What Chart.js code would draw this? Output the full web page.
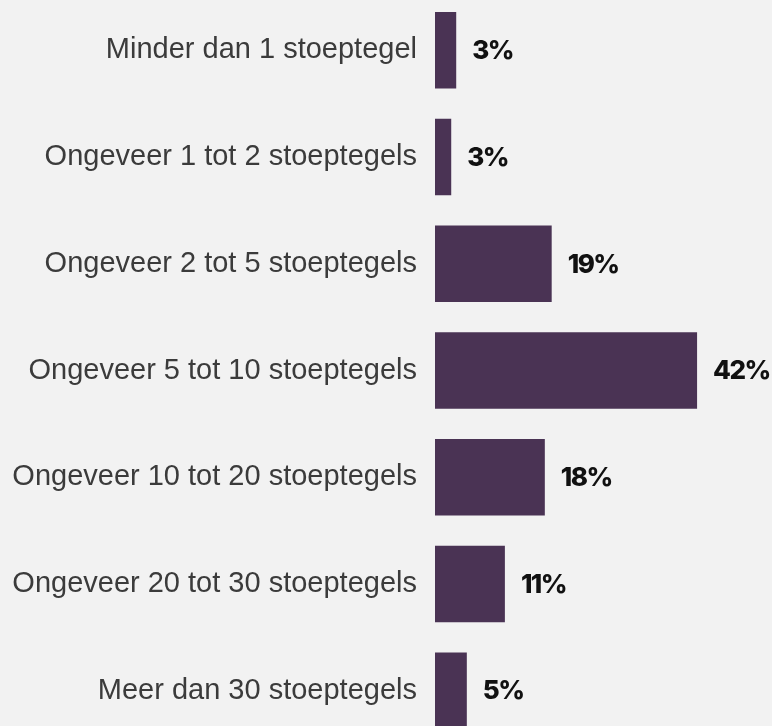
<!DOCTYPE html>
<html>
<head>
<meta charset="utf-8">
<script src="https://cdn.jsdelivr.net/npm/chart.js@4"></script>
<style>
  html, body { margin: 0; padding: 0; background: #f2f2f2; overflow: hidden; }
  body { width: 772px; height: 726px; position: relative; }
  #wrap { position: absolute; left: 0; top: -3px; width: 772px; height: 747px; }
</style>
</head>
<body>
<div id="wrap"><canvas id="tegelChart"></canvas></div>
<script>
// categorieën en percentages
const categorieen = [
  'Minder dan 1 stoeptegel',
  'Ongeveer 1 tot 2 stoeptegels',
  'Ongeveer 2 tot 5 stoeptegels',
  'Ongeveer 5 tot 10 stoeptegels',
  'Ongeveer 10 tot 20 stoeptegels',
  'Ongeveer 20 tot 30 stoeptegels',
  'Meer dan 30 stoeptegels'
];
const percentages = [3.4, 2.6, 18.7, 42, 17.6, 11.2, 5.1];
const labelsWaarde = ['3%', '3%', '19%', '42%', '18%', '11%', '5%'];

// waarde-labels naast de balken
const waardeLabels = {
  id: 'waardeLabels',
  afterDatasetsDraw(chart) {
    const ctx = chart.ctx;
    const meta = chart.getDatasetMeta(0);
    ctx.save();
    ctx.font = '800 26px Inter';
    ctx.letterSpacing = '-1.5px';
    ctx.fillStyle = '#111111';
    ctx.textAlign = 'left';
    ctx.textBaseline = 'middle';
    meta.data.forEach((bar, i) => {
      ctx.fillText(labelsWaarde[i], bar.x + 16, bar.y + 1);
    });
    ctx.restore();
  }
};

const ctx = document.getElementById('tegelChart').getContext('2d');
new Chart(ctx, {
  type: 'bar',
  data: {
    labels: categorieen,
    datasets: [{
      data: percentages,
      backgroundColor: '#4a3354',
      categoryPercentage: 1,
      barPercentage: 0.717
    }]
  },
  options: {
    indexAxis: 'y',
    responsive: true,
    maintainAspectRatio: false,
    animation: false,
    layout: { padding: { top: 0, bottom: 0, left: 0, right: 25 } },
    plugins: {
      legend: { display: false },
      tooltip: { enabled: false }
    },
    scales: {
      x: {
        display: false,
        min: 0,
        max: 50
      },
      y: {
        afterFit: scale => {
          scale.width = 435;
          scale.paddingTop = 0;
          scale.paddingBottom = 0;
        },
        grid: { display: false, drawTicks: false },
        border: { display: false },
        ticks: {
          padding: 18,
          color: '#3b3b3b',
          font: { family: 'Liberation Sans', size: 29 }
        }
      }
    }
  },
  plugins: [waardeLabels]
});
</script>
</body>
</html>
